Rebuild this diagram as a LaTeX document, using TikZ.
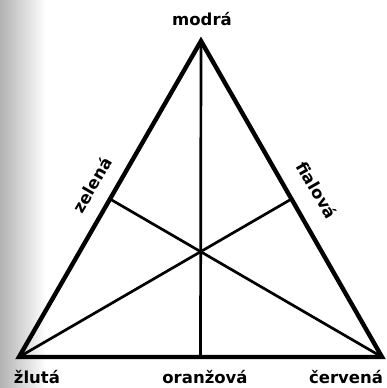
\documentclass[tikz,border=0pt]{standalone}
\usepackage{fontspec}
\setmainfont{DejaVu Sans}
\usetikzlibrary{calc}

\begin{document}
\begin{tikzpicture}[
  x=1pt,y=-1pt,
  font=\bfseries\fontsize{16.5}{19}\selectfont,
  side/.style={line width=4.4pt,line join=miter,miter limit=20,black},
  median/.style={line width=2.7pt,black},
  lbl/.style={inner sep=0pt,text=black}
]
\useasboundingbox (0,0) rectangle (386,388);
\shade[left color=black!30,right color=white] (0,0) rectangle (46,388);

%% ================= corners and feet =================
\coordinate (modra)    at (201,41);
\coordinate (zluta)    at (19,357);
\coordinate (cervena)  at (382,357);
\coordinate (zelena)   at ($(modra)!0.5!(zluta)$);
\coordinate (fialova)  at ($(modra)!0.5!(cervena)$);
\coordinate (oranzova) at ($(zluta)!0.5!(cervena)$);

\draw[side] (modra) -- (zluta) -- (cervena) -- cycle;
\foreach \a/\b in {modra/oranzova, zluta/fialova, cervena/zelena}
  \draw[median] (\a) -- (\b);

%% ================= labels =================
\node[lbl]           (tmodra)    at (202,19)  {modrá};
\node[lbl,rotate=60] (tzelena)   at (92,185)  {zelená};
\node[lbl,rotate=-60](tfialova)  at (317,190) {fialová};
\node[lbl]           (tzluta)    at (37,377)  {žlutá};
\node[lbl]           (toranzova) at (205,377) {oranžová};
\node[lbl]           (tcervena)  at (346,377) {červená};

\end{tikzpicture}
\end{document}
